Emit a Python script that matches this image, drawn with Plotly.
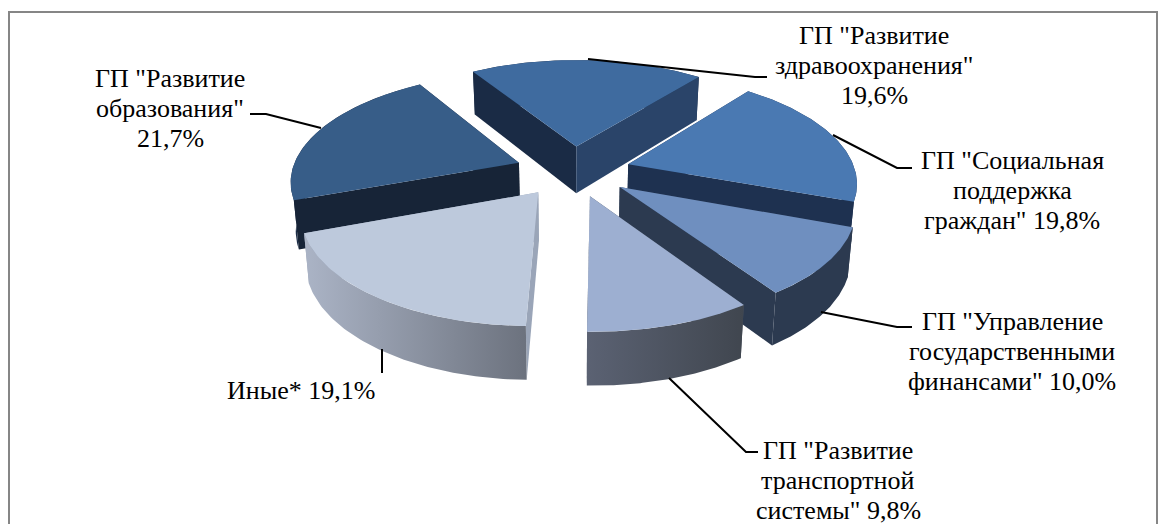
import numpy as np
import plotly.graph_objects as go

categories = ['ГП "Развитие<br>образования"<br>21,7%',
              'ГП "Развитие<br>здравоохранения"<br>19,6%',
              'ГП "Социальная<br>поддержка<br>граждан" 19,8%',
              'ГП "Управление<br>государственными<br>финансами" 10,0%',
              'ГП "Развитие<br>транспортной<br>системы" 9,8%',
              'Иные* 19,1%']
values = [21.7, 19.6, 19.8, 10.0, 9.8, 19.1]

# style / layout
START = 250.0
EXPLODE_X, EXPLODE_Y = 0.255, 0.24
CX, CY = 573.0, 171.0
D, FX, FY, H = 6.6, 227.0, 106.3, 48.0
top_colors = ['#375D88', '#3F6B9F', '#4A79B2', '#6F8FBF', '#9DAFD1', '#BDC9DC']
cut_colors = [('#172437', '#172437'), ('#1A2B45', '#2A4469'), ('#1E3150', '#1E3150'),
              ('#2C3A50', '#2C3A50'), ('#4A5260', '#4A5260'), ('#9AA5B8', '#9AA5B8')]
rim_colors = [('#1C2D47', '#1C2D47'), ('#1C2D47', '#1C2D47'), ('#1E3150', '#1E3150'),
              ('#2C3A50', '#2C3A50'), ('#5B6273', '#40464F'), ('#ABB4C6', '#6C727E')]
draw_order = [1, 0, 2, 3, 5, 4]
label_pos = [(170, 108), (874, 65), (1012, 190), (1012, 351), (838, 480), (301, 390)]
LINE_GAP = 30
leaders = ['M250,114 L266,114 L321,128', 'M588,59 L755,77 L767,77', 'M833,135 L897,168 L912,168',
           'M821,312 L897,327 L912,327', 'M669,378 L746,452 L758,452', 'M382,349 L382,373']
FRAME = 'M9,524 L9,12 L1157,12 L1157,524'


def project(x, y, z):
    k = D / (D - y)
    return CX + FX * x * k * (1 - 0.018 * z), CY + FY * y * k + H * z * (1 + 0.1 * y)


shares = np.array(values) / sum(values) * 360.0
starts = START + np.concatenate([[0], np.cumsum(shares)[:-1]])

fig = go.Figure()


def add_poly(px, py, c0, c1):
    kw = dict(fillcolor=c0) if c0 == c1 else dict(
        fillgradient=dict(type='horizontal', colorscale=[[0, c0], [1, c1]]))
    fig.add_trace(go.Scatter(x=px, y=py, mode='lines', fill='toself', line=dict(width=0),
                             hoverinfo='skip', showlegend=False, **kw))


for i in draw_order:
    a0, span = starts[i], shares[i]
    mid = np.radians(a0 + span / 2)
    ox, oy = EXPLODE_X * np.sin(mid), -EXPLODE_Y * np.cos(mid)
    th = np.radians(np.linspace(a0, a0 + span, 70))
    rx, ry = ox + np.sin(th), oy - np.cos(th)

    walls = []
    for j, (wx, wy, col) in enumerate([
        (np.array([ox, rx[0]]), np.array([oy, ry[0]]), cut_colors[i][0]),
        (np.array([ox, rx[-1]]), np.array([oy, ry[-1]]), cut_colors[i][1]),
    ]):
        walls.append((wy.mean(), wx, wy, col, col))
    walls.append((ry.mean(), rx, ry, rim_colors[i][0], rim_colors[i][1]))
    for _, wx, wy, c0, c1 in sorted(walls, key=lambda w: w[0]):
        x0, y0 = project(wx, wy, 0)
        x1, y1 = project(wx, wy, 1)
        add_poly(np.r_[x0, x1[::-1], x0[0]], np.r_[y0, y1[::-1], y0[0]], c0, c1)

    tx, ty = project(np.r_[ox, rx, ox], np.r_[oy, ry, oy], 0)
    add_poly(tx, ty, top_colors[i], top_colors[i])

for name, (lx, ly) in zip(categories, label_pos):
    lines = name.split('<br>')
    for n, line in enumerate(lines):
        fig.add_annotation(x=lx, y=ly + (n - (len(lines) - 1) / 2) * LINE_GAP, text=line,
                           showarrow=False, xanchor='center', yanchor='middle', align='center',
                           font=dict(family='Liberation Serif', size=26, color='black'))

shapes = [dict(type='path', path=FRAME, xref='x', yref='y', line=dict(color='#868686', width=2))]
shapes += [dict(type='path', path=p, xref='x', yref='y', line=dict(color='black', width=2)) for p in leaders]

fig.update_layout(width=1166, height=524, margin=dict(l=0, r=0, t=0, b=0),
                  paper_bgcolor='white', plot_bgcolor='white', shapes=shapes, showlegend=False,
                  xaxis=dict(range=[0, 1166], visible=False, fixedrange=True),
                  yaxis=dict(range=[524, 0], visible=False, fixedrange=True))

fig.write_html("out.html", config={'displayModeBar': False},
               post_script="document.body.style.margin='0';document.body.style.overflow='hidden';")
